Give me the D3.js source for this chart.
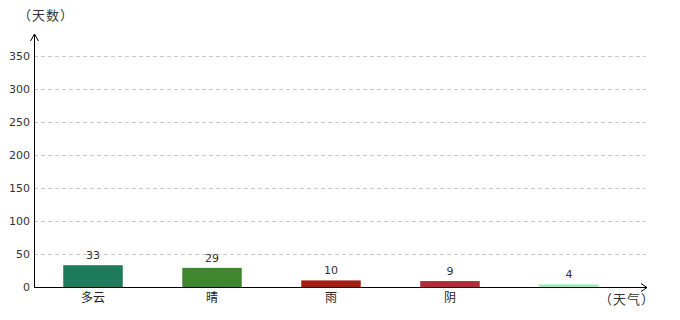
<!DOCTYPE html>
<html>
<head>
<meta charset="utf-8">
<script src="https://cdn.jsdelivr.net/npm/d3@7"></script>
<style>
    body { margin: 0; background: #fff; }
    text { font-family: "Noto Sans CJK SC", "DejaVu Sans", sans-serif; }
</style>
</head>
<body>
<script>
// chart data
var categories = ["多云", "晴", "雨", "阴", ""];
var days = [33, 29, 10, 9, 4];
var barColors = ["#1e7b5b", "#3f862e", "#a7200f", "#b12c3b", "#9aecbc"];
var yTicks = [0, 50, 100, 150, 200, 250, 300, 350];

// margins: axis origin at (34, 287)
var margin = {top: 56, right: 34, bottom: 33, left: 34},
    width = 680 - margin.left - margin.right,
    height = 320 - margin.top - margin.bottom;

var svg = d3.select("body").append("svg")
    .attr("width", 680)
    .attr("height", 320)
    .append("g")
    .attr("transform", "translate(" + margin.left + "," + margin.top + ")");

var data = categories.map(function(c, i) {
    return {key: c, value: days[i], color: barColors[i], idx: i};
});

var xScale = d3.scaleBand()
    .domain(d3.range(categories.length))
    .range([-0.5, 119 * categories.length - 0.5])
    .paddingInner(0.5)
    .paddingOuter(0.25);

var yScale = d3.scaleLinear().domain([0, 350]).range([height, 0]);

// dashed grid lines
svg.selectAll("line.grid")
    .data(yTicks.slice(1))
    .enter()
    .append("line")
    .attr("class", "grid")
    .attr("x1", 0)
    .attr("x2", width)
    .attr("y1", function(d) { return yScale(d) + 0.5; })
    .attr("y2", function(d) { return yScale(d) + 0.5; })
    .attr("stroke", "#c8c8c8")
    .attr("stroke-dasharray", "4,3");

// y axis tick labels
var yAxis = d3.axisLeft(yScale).tickValues(yTicks).tickSize(0).tickPadding(4);
var yg = svg.append("g").call(yAxis);
yg.select(".domain").remove();
yg.selectAll("text")
    .attr("font-size", "11px")
    .attr("fill", "#333")
    .style("font-family", "'DejaVu Sans', sans-serif");

// bars
svg.selectAll("rect.bar")
    .data(data)
    .enter()
    .append("rect")
    .attr("class", "bar")
    .attr("x", function(d) { return xScale(d.idx); })
    .attr("y", function(d) { return yScale(d.value); })
    .attr("width", xScale.bandwidth())
    .attr("height", function(d) { return height - yScale(d.value); })
    .attr("fill", function(d) { return d.color; });

// value labels
svg.selectAll("text.val")
    .data(data)
    .enter()
    .append("text")
    .attr("class", "val")
    .attr("text-anchor", "middle")
    .attr("x", function(d) { return xScale(d.idx) + xScale.bandwidth() / 2; })
    .attr("y", function(d) { return yScale(d.value) - 6; })
    .attr("font-size", "11px")
    .attr("fill", "#333")
    .style("font-family", "'DejaVu Sans', sans-serif")
    .text(function(d) { return d.value; });

// category labels
svg.selectAll("text.cat")
    .data(data)
    .enter()
    .append("text")
    .attr("class", "cat")
    .attr("text-anchor", "middle")
    .attr("x", function(d) { return xScale(d.idx) + xScale.bandwidth() / 2; })
    .attr("y", height + 15)
    .attr("font-size", "12px")
    .attr("fill", "#222")
    .text(function(d) { return d.key; });

// axis lines with arrows
svg.append("line")
    .attr("x1", 0.5).attr("x2", 0.5)
    .attr("y1", height).attr("y2", -21)
    .attr("stroke", "#000");
svg.append("path")
    .attr("d", "M-3.5,-15 L0.5,-22 L4.5,-15")
    .attr("fill", "none")
    .attr("stroke", "#000");

svg.append("line")
    .attr("x1", 0).attr("x2", width + 1)
    .attr("y1", height + 0.5).attr("y2", height + 0.5)
    .attr("stroke", "#000");
svg.append("path")
    .attr("d", "M" + (width - 5) + "," + (height - 3.5) + " L" + (width + 1) +
        "," + (height + 0.5) + " L" + (width - 5) + "," + (height + 4.5))
    .attr("fill", "none")
    .attr("stroke", "#000");

// axis titles
svg.append("text")
    .attr("x", -16)
    .attr("y", -36)
    .attr("font-size", "13px")
    .attr("letter-spacing", "1px")
    .attr("fill", "#333")
    .text("（天数）");

svg.append("text")
    .attr("x", width + 9)
    .attr("y", height + 17)
    .attr("text-anchor", "end")
    .attr("font-size", "13px")
    .attr("letter-spacing", "1px")
    .attr("fill", "#333")
    .text("（天气）");
</script>
</body>
</html>
